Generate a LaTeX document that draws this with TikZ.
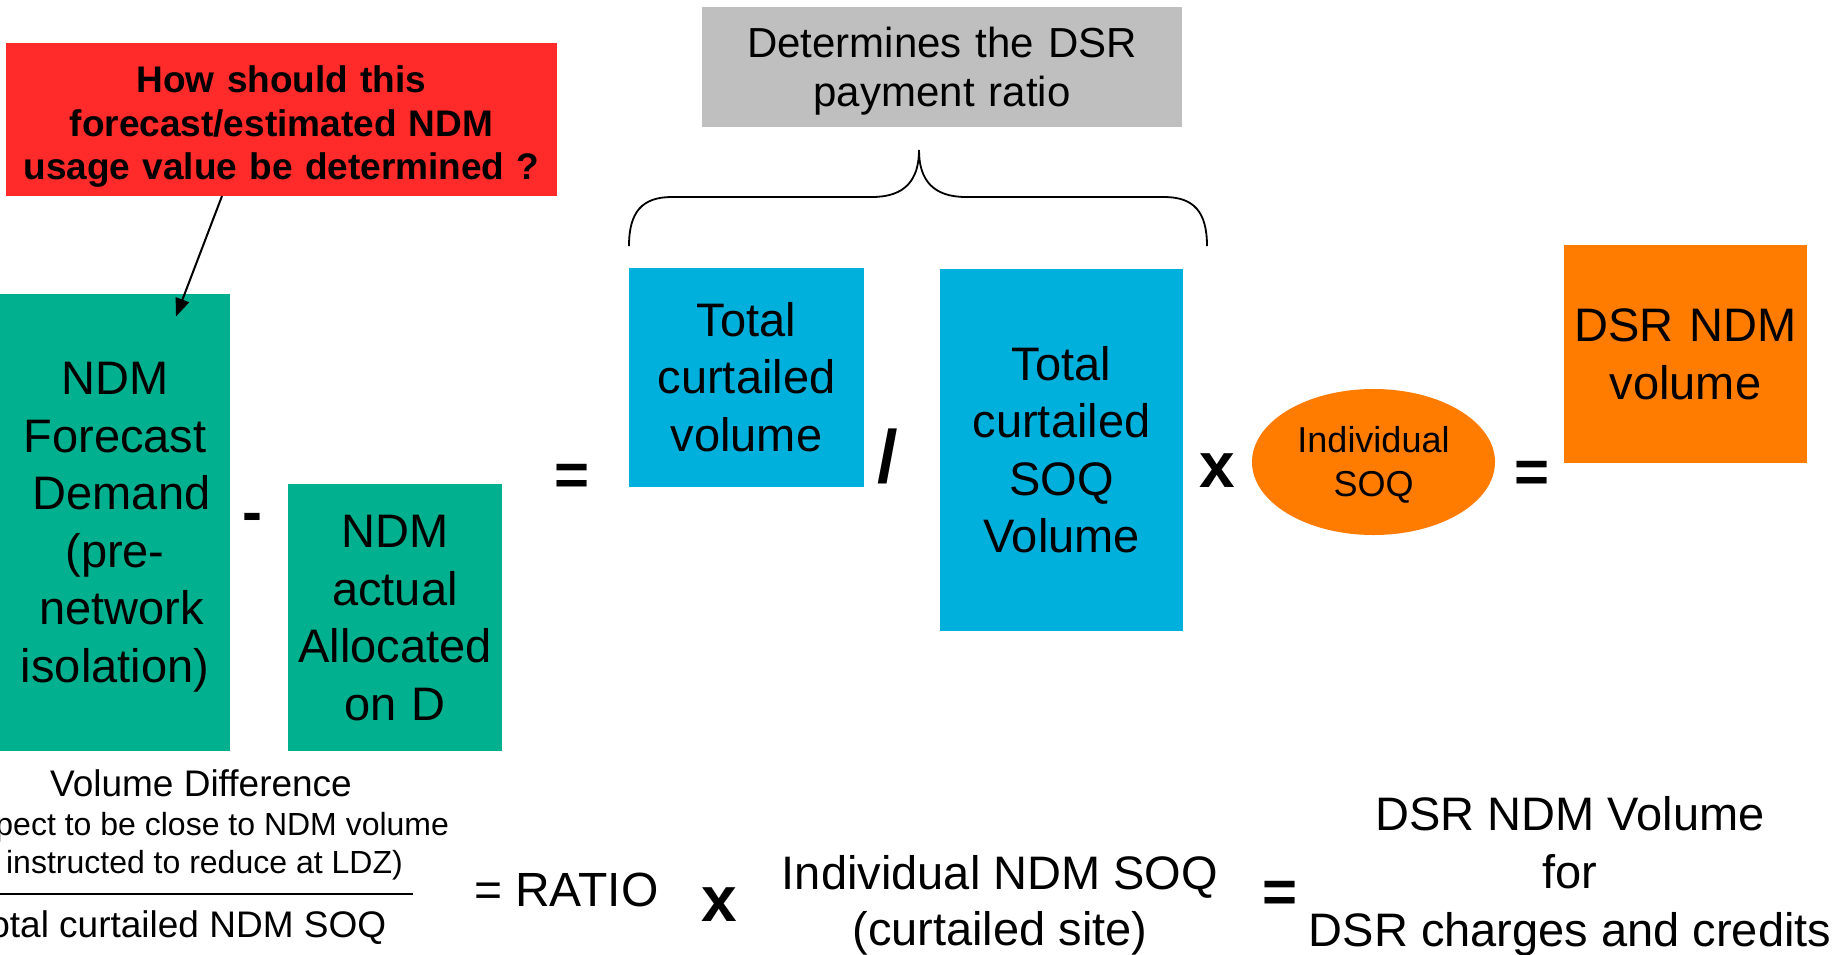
\documentclass[tikz,border=0pt]{standalone}
\usepackage{fontspec}
\setmainfont{Liberation Sans}
\usetikzlibrary{arrows.meta,shapes.geometric,calc}

\definecolor{askred}{RGB}{255,42,42}
\definecolor{notegray}{RGB}{191,191,191}
\definecolor{ndmteal}{RGB}{0,176,142}
\definecolor{curtblue}{RGB}{0,176,220}
\definecolor{dsrorange}{RGB}{255,124,0}

% line strut with slide-style ascent/descent, keeps text blocks centred like the slide
\newcommand\lnstrut{\rule[-.212em]{0pt}{1.117em}}
\newcommand\lnstruttop{\rule[-.212em]{0pt}{\dimexpr1.117em+4pt\relax}}

\begin{document}
\begin{tikzpicture}[x=0.5pt,y=-0.5pt,
  every node/.style={inner sep=0pt, outer sep=0pt},
  panel/.style 2 args={rectangle, align=center, text width=#1, minimum height=#2},
  boxtxt/.style={font=\fontsize{23.5}{28.75}\selectfont},
  optxt/.style={font=\bfseries\fontsize{30}{36}\selectfont, anchor=base},
  qarrow/.style={line width=1pt, -{Triangle[length=9pt,width=7pt]}},
  brace/.style={line width=0.9pt},
  fracbar/.style={line width=1.3pt}
]
\useasboundingbox (0,0) rectangle (1843,954);
\fill[white] (0,0) rectangle (1843,954);
\clip (0,0) rectangle (1843,954);

% question box and its pointer
\node[panel={275.5pt}{76.5pt}, fill=askred, font=\bfseries\fontsize{18.5}{21.75}\selectfont]
  (ask) at (281.5,119.5)
  {\lnstruttop How should this\\forecast/estimated NDM\\usage value be determined ?\lnstrut};

% ratio note box
\node[panel={240pt}{60pt}, fill=notegray, font=\fontsize{21}{23}\selectfont]
  (note) at (942,67)
  {\lnstrut Determines the DSR\\payment ratio\lnstrut};

% NDM volume difference
\node[panel={115pt}{228.5pt}, fill=ndmteal, boxtxt] (fcast) at (115,522)
  {\lnstrut NDM\hspace*{.278em}\\Forecast\\\hspace*{.278em}Demand\\(pre-\\\hspace*{.278em}network\\isolation)\lnstrut};
\node[optxt] (minus) at (252,532) {-};
\node[panel={107pt}{133.5pt}, fill=ndmteal, boxtxt] (alloc) at (395,617.5)
  {\lnstrut NDM\\actual\\Allocated\\on D\lnstrut};

\coordinate (qfrom) at ($(ask.south)+(-59.5,0)$);
\coordinate (qtip) at ($(fcast.north west)+(176,23)$);
\draw[qarrow] (qfrom) -- (qtip);

% payment ratio terms
\node[optxt] (eq1) at (572,495) {=};
\node[panel={117.5pt}{109.5pt}, fill=curtblue, boxtxt] (ctot) at (746.5,377.5)
  {\lnstrut Total\\curtailed\\volume\lnstrut};
\node[optxt, font=\bfseries\fontsize{37}{44}\selectfont] (divide) at (888,482) {/};
\node[panel={121.5pt}{181pt}, fill=curtblue, boxtxt] (csoq) at (1061.5,450)
  {\lnstrut Total\\curtailed\\SOQ\\Volume\lnstrut};

% brace grouping the two curtailed terms
\draw[brace] (629,246) .. controls (629,212) and (642,197) .. (672,197)
  -- (872,197) .. controls (905,197) and (919,180) .. (919,150)
  .. controls (919,180) and (933,197) .. (966,197)
  -- (1164,197) .. controls (1194,197) and (1207,212) .. (1207,246);

\node[optxt, font=\bfseries\fontsize{32}{38}\selectfont] (times1) at (1217,487) {x};
\node[ellipse, fill=dsrorange, minimum width=121.5pt, minimum height=73pt,
      align=center, font=\fontsize{18}{22}\selectfont] (isoq) at (1373.5,462)
  {\lnstrut Individual\\SOQ\lnstrut};
\node[optxt] (eq2) at (1532,492) {=};
\node[panel={121.5pt}{109pt}, fill=dsrorange, boxtxt] (dsrv) at (1685.5,354)
  {\lnstrut DSR NDM\\volume\lnstrut};

% the same calculation written as a formula
\node[anchor=base, font=\fontsize{18.5}{22}\selectfont] (vdiff) at (201,796) {Volume Difference};
\node[align=center, font=\fontsize{16}{19}\selectfont] (vnote) at (200,846)
  {(expect to be close to NDM volume\\\hspace*{.278em}instructed to reduce at LDZ)};
\draw[fracbar] (0,894) -- (413,894);
\node[anchor=base, font=\fontsize{18.5}{22}\selectfont] (vden) at (178.5,937) {Total curtailed NDM SOQ};
\node[anchor=base west, font=\fontsize{24}{28}\selectfont] (ratio) at (474,906) {= RATIO};
\node[optxt, font=\bfseries\fontsize{32}{38}\selectfont] (times2) at (719,921) {x};
\node[align=center, font=\fontsize{23.5}{28}\selectfont] (indsoq) at (1000,905)
  {Individual NDM SOQ\\(curtailed site)};
\node[optxt] (eq3) at (1280,912) {=};
\node[align=center, font=\fontsize{23.5}{29}\selectfont] (dsrcc) at (1570,876)
  {DSR NDM Volume\\for\\DSR charges and credits};
\end{tikzpicture}
\end{document}
